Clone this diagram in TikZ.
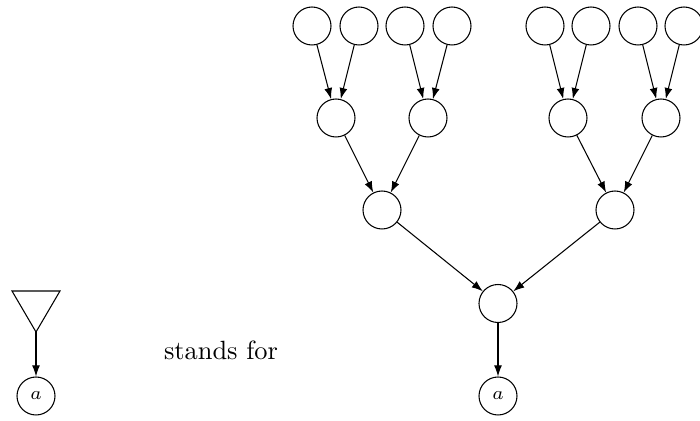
\documentclass[tikz,border=0pt]{standalone}
\usetikzlibrary{arrows.meta}
\begin{document}
\begin{tikzpicture}[x=0.379pt,y=-0.379pt,
  vert/.style={draw,circle,inner sep=0pt,minimum size=14.4pt},
  leaf/.style={draw,circle,inner sep=0pt,minimum size=14.4pt,font=\scriptsize},
  edge/.style={-{Latex[length=4.2pt,width=3pt]},line width=0.4pt}]
\useasboundingbox (0,0) rectangle (700,421);
% top leaves
\node[vert] (l1) at (312,26) {};
\node[vert] (l2) at (359,26) {};
\node[vert] (l3) at (405,26) {};
\node[vert] (l4) at (452,26) {};
\node[vert] (l5) at (545,26) {};
\node[vert] (l6) at (591,26) {};
\node[vert] (l7) at (638,26) {};
\node[vert] (l8) at (684,26) {};
% level 2
\node[vert] (m1) at (336,118) {};
\node[vert] (m2) at (428,118) {};
\node[vert] (m3) at (568,118) {};
\node[vert] (m4) at (661,118) {};
% level 3
\node[vert] (n1) at (382,210) {};
\node[vert] (n2) at (615,210) {};
% root
\node[vert] (r) at (498,303.5) {};
\node[leaf] (ra) at (498,396) {$a$};
% edges
\draw[edge] (l1) -- (m1);
\draw[edge] (l2) -- (m1);
\draw[edge] (l3) -- (m2);
\draw[edge] (l4) -- (m2);
\draw[edge] (l5) -- (m3);
\draw[edge] (l6) -- (m3);
\draw[edge] (l7) -- (m4);
\draw[edge] (l8) -- (m4);
\draw[edge] (m1) -- (n1);
\draw[edge] (m2) -- (n1);
\draw[edge] (m3) -- (n2);
\draw[edge] (m4) -- (n2);
\draw[edge] (n1) -- (r);
\draw[edge] (n2) -- (r);
\draw[edge] (r) -- (ra);
% left: triangle
\coordinate (tl) at (12,291);
\coordinate (tr) at (60,291);
\coordinate (apex) at (36,332);
\draw (tl) -- (tr) -- (apex) -- cycle;
\node[leaf] (la) at (36,396) {$a$};
\draw[edge] (apex) -- (la);
% text
\node[inner sep=0pt,anchor=base] (sf) at (221,360) {stands for};
\end{tikzpicture}
\end{document}
